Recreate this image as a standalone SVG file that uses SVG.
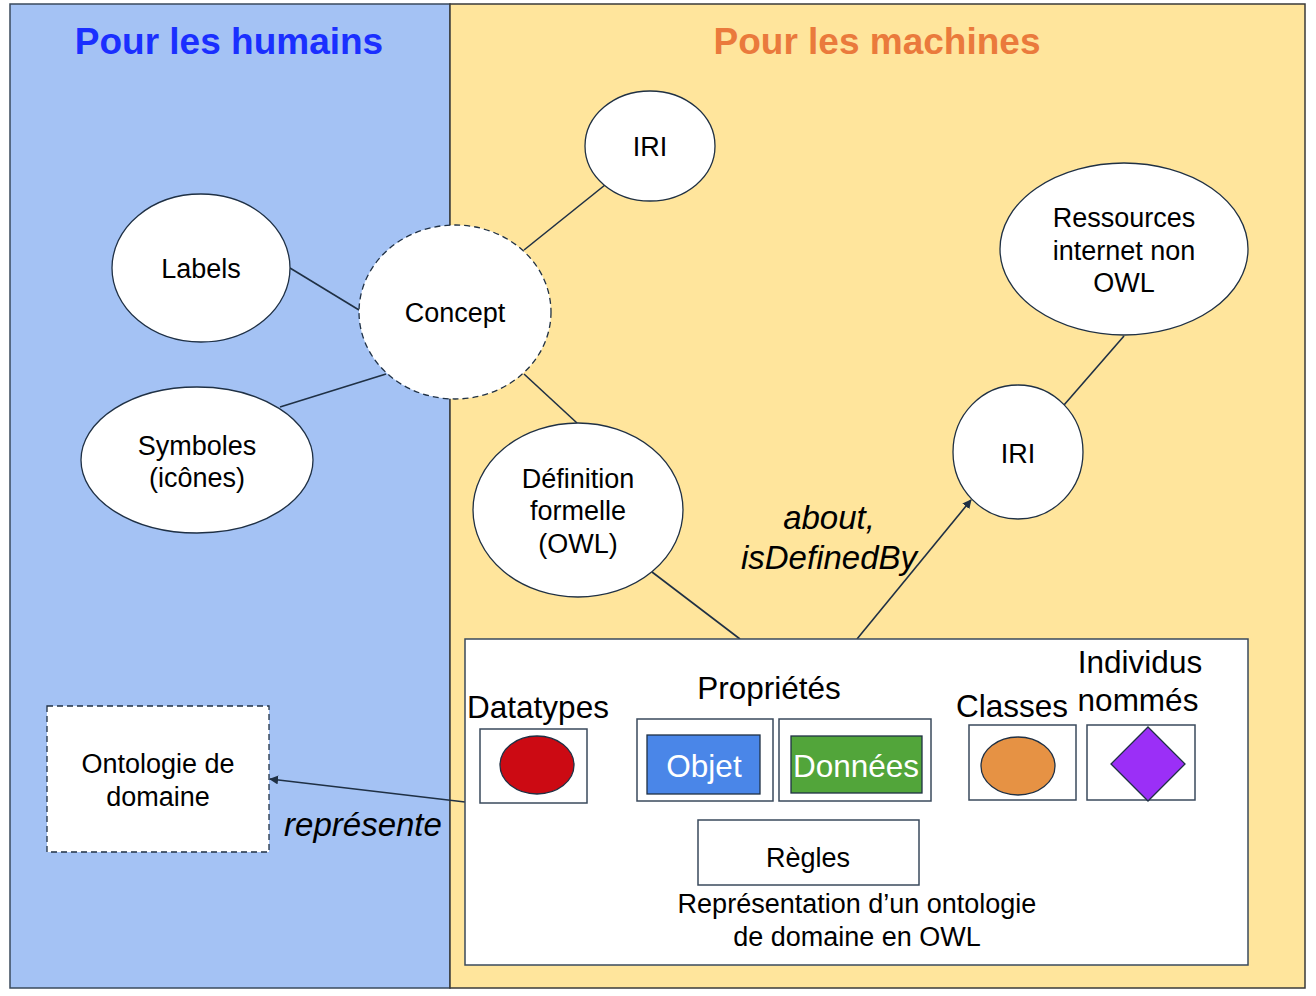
<svg xmlns="http://www.w3.org/2000/svg" width="1316" height="996" viewBox="0 0 1316 996">
  <style>
    text { font-family: "Liberation Sans", Arial, sans-serif; fill: #000; }
    .lbl { font-size: 27px; text-anchor: middle; }
    .big { font-size: 31.5px; text-anchor: middle; }
    .it { font-size: 33px; font-style: italic; text-anchor: middle; }
    .title { font-size: 37px; font-weight: bold; text-anchor: middle; }
    .node { fill: #fff; stroke: #1f3044; stroke-width: 1.3; }
    .dash { stroke-dasharray: 6 4; }
    .conn { stroke: #1f3044; stroke-width: 1.6; fill: none; }
    .box { fill: #fff; stroke: #3a4a5c; stroke-width: 1.5; }
  </style>
  <defs>
    <marker id="arrow" viewBox="0 0 10 10" refX="9" refY="5" markerWidth="9" markerHeight="9" orient="auto" markerUnits="userSpaceOnUse">
      <path d="M0,0 L10,5 L0,10 z" fill="#1f3044"/>
    </marker>
  </defs>

  <!-- panels -->
  <g id="panels">
    <rect x="10" y="4" width="440" height="984" fill="#a4c2f4" stroke="#3a4a5c" stroke-width="1.5"/>
    <rect x="450" y="4" width="855" height="984" fill="#ffe59c" stroke="#3a3a3a" stroke-width="1.5"/>
    <text class="title" x="229" y="54" style="fill:#1a2fff">Pour les humains</text>
    <text class="title" x="877" y="54" style="fill:#ea7a3c">Pour les machines</text>
  </g>

  <!-- connectors -->
  <g id="connectors">
    <line class="conn" x1="524" y1="250" x2="605" y2="185"/>
    <line class="conn" x1="290" y1="268" x2="359" y2="310"/>
    <line class="conn" x1="280" y1="407" x2="386" y2="374"/>
    <line class="conn" x1="524" y1="374" x2="577" y2="423"/>
    <line class="conn" x1="652" y1="572" x2="740" y2="639"/>
    <line class="conn" x1="857" y1="639" x2="971" y2="500" marker-end="url(#arrow)"/>
    <line class="conn" x1="1124" y1="336" x2="1064" y2="405"/>
    <line class="conn" x1="465" y1="802" x2="270" y2="779" marker-end="url(#arrow)"/>
    <text class="it" x="829" y="529">about,</text>
    <text class="it" x="829" y="569">isDefinedBy</text>
    <text class="it" x="363" y="836">représente</text>
  </g>

  <g id="iri-top">
    <ellipse class="node" cx="650" cy="146" rx="65" ry="55"/>
    <text class="lbl" x="650" y="156">IRI</text>
  </g>
  <g id="labels">
    <ellipse class="node" cx="201" cy="268" rx="89" ry="74"/>
    <text class="lbl" x="201" y="278">Labels</text>
  </g>
  <g id="concept">
    <ellipse class="node dash" cx="455" cy="312" rx="96" ry="87"/>
    <text class="lbl" x="455" y="322">Concept</text>
  </g>
  <g id="symboles">
    <ellipse class="node" cx="197" cy="460" rx="116" ry="73"/>
    <text class="lbl" x="197" y="455">Symboles</text>
    <text class="lbl" x="197" y="487">(icônes)</text>
  </g>
  <g id="definition">
    <ellipse class="node" cx="578" cy="510" rx="105" ry="87"/>
    <text class="lbl" x="578" y="488">Définition</text>
    <text class="lbl" x="578" y="520">formelle</text>
    <text class="lbl" x="578" y="553">(OWL)</text>
  </g>
  <g id="ressources">
    <ellipse class="node" cx="1124" cy="249" rx="124" ry="86"/>
    <text class="lbl" x="1124" y="227">Ressources</text>
    <text class="lbl" x="1124" y="260">internet non</text>
    <text class="lbl" x="1124" y="292">OWL</text>
  </g>
  <g id="iri-right">
    <ellipse class="node" cx="1018" cy="452" rx="65" ry="67"/>
    <text class="lbl" x="1018" y="463">IRI</text>
  </g>

  <g id="ontologie">
    <rect class="node dash" x="47" y="706" width="222" height="146"/>
    <text class="lbl" x="158" y="773">Ontologie de</text>
    <text class="lbl" x="158" y="806">domaine</text>
  </g>

  <g id="owl">
    <rect class="box" x="465" y="639" width="783" height="326"/>
    <text class="big" x="538" y="718">Datatypes</text>
    <rect class="box" x="480" y="729" width="107" height="74"/>
    <ellipse cx="537" cy="765" rx="37" ry="29" fill="#cc0a13" stroke="#1f3044" stroke-width="1.3"/>

    <text class="big" x="769" y="699">Propriétés</text>
    <rect class="box" x="637" y="719" width="136" height="82"/>
    <rect x="647" y="735" width="113" height="59" fill="#4a86e8" stroke="#1f3044" stroke-width="1.3"/>
    <text class="big" x="704" y="777" style="fill:#fff">Objet</text>
    <rect class="box" x="779" y="719" width="152" height="82"/>
    <rect x="791" y="736" width="131" height="57" fill="#52a53a" stroke="#1f3044" stroke-width="1.3"/>
    <text class="big" x="856" y="777" style="fill:#fff">Données</text>

    <text class="big" x="1012" y="717">Classes</text>
    <rect class="box" x="969" y="725" width="107" height="75"/>
    <ellipse cx="1018" cy="766" rx="37" ry="29" fill="#e69244" stroke="#1f3044" stroke-width="1.3"/>

    <text class="big" x="1140" y="673">Individus</text>
    <text class="big" x="1138" y="711">nommés</text>
    <rect class="box" x="1087" y="725" width="108" height="75"/>
    <polygon points="1148,727 1185,764 1148,801 1111,764" fill="#9b2ff7" stroke="#1f3044" stroke-width="1.3"/>

    <rect class="box" x="698" y="820" width="221" height="65"/>
    <text class="lbl" x="808" y="867">Règles</text>
    <text class="lbl" x="857" y="913">Représentation d’un ontologie</text>
    <text class="lbl" x="857" y="946">de domaine en OWL</text>
  </g>
</svg>
